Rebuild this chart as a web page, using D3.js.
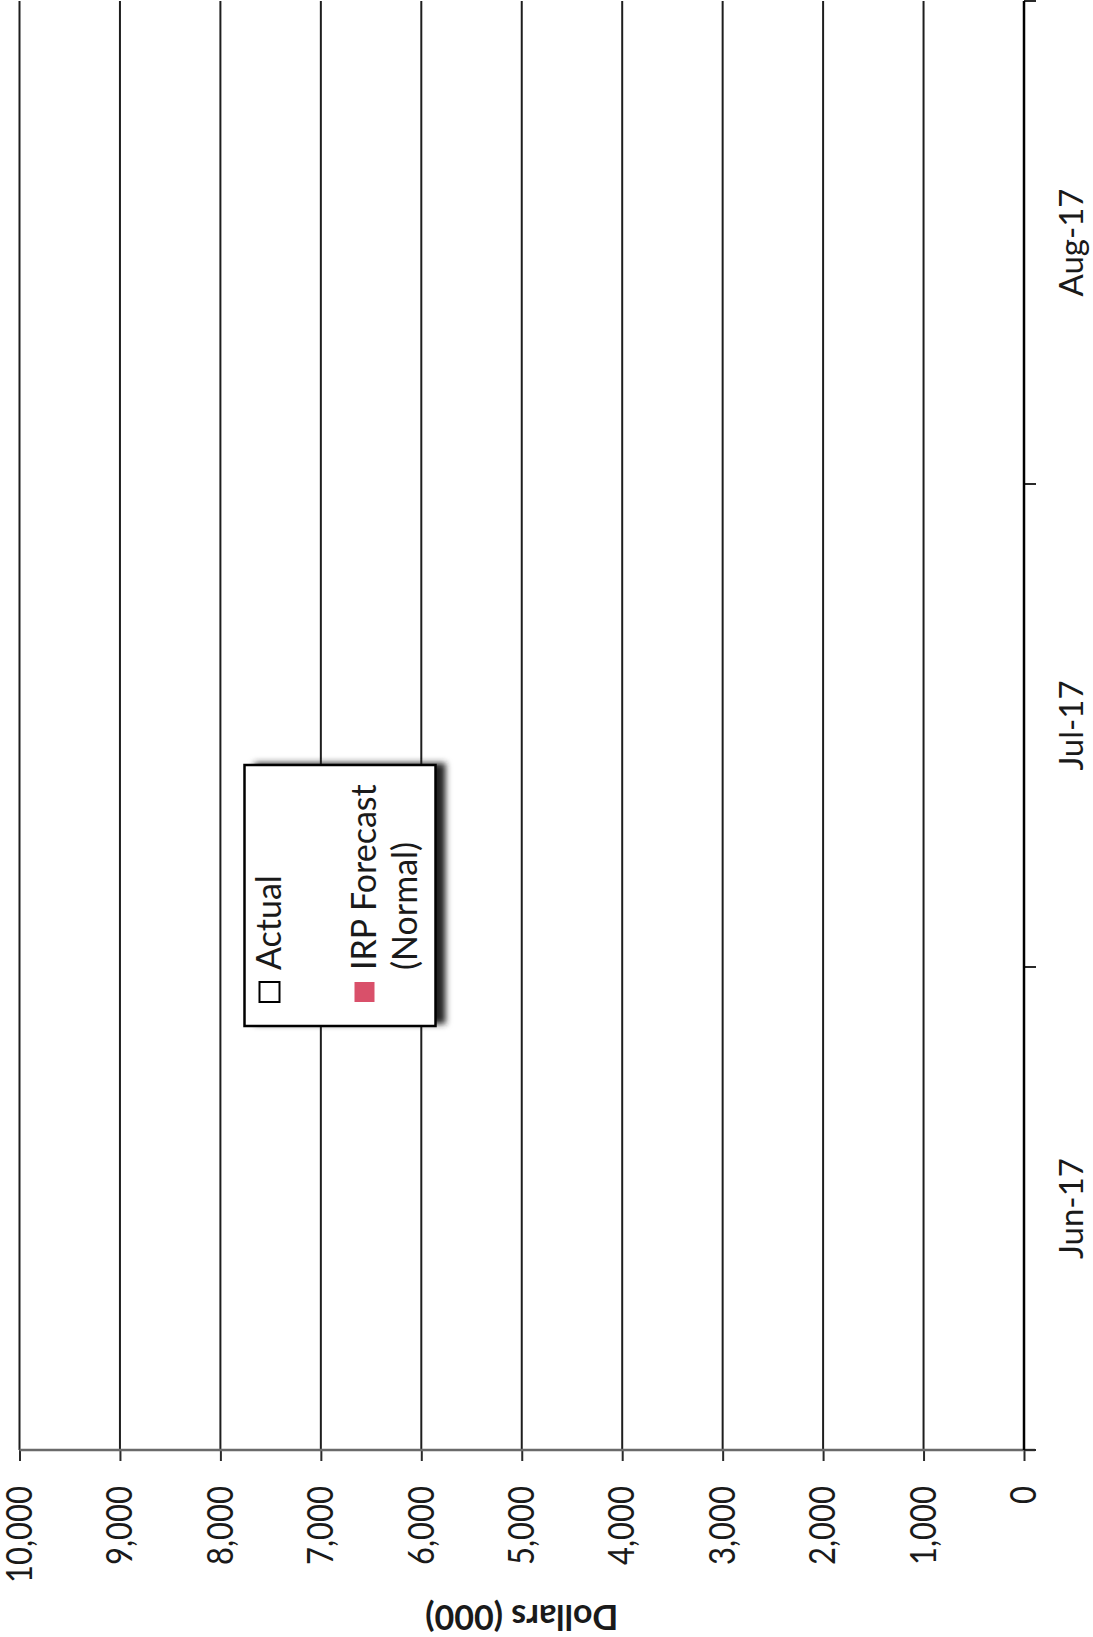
<!DOCTYPE html>
<html>
<head>
<meta charset="utf-8">
<script src="https://cdn.jsdelivr.net/npm/d3@7/dist/d3.min.js"></script>
<style>
  html, body { margin: 0; padding: 0; background: #ffffff; }
  svg { display: block; }
</style>
</head>
<body>
<svg id="chart" width="1093" height="1637"></svg>
<script>
// ---- data ----
const categories = ["Jun-17", "Jul-17", "Aug-17"];
const actualValues = [null, null, null];          // no bars shown in the reference
const irpForecastValues = [null, null, null];     // no bars shown in the reference
const valueTicks = [0, 1000, 2000, 3000, 4000, 5000, 6000, 7000, 8000, 9000, 10000];
const seriesNames = ["Actual", "IRP Forecast (Normal)"];
const legendLabelLines = [["Actual"], ["IRP Forecast", "(Normal)"]];
const seriesColors = ["#ffffff", "#d9506a"];
const valueAxisTitle = "Dollars (000)";

// ---- layout (chart is drawn in its natural orientation, then rotated -90deg) ----
const svg = d3.select("#chart");
const originX = 19.5, originY = 1450;     // screen position of (category start, value max)
const W = 1449;                            // category extent
const H = 1004.5;                          // value extent

const g = svg.append("g")
  .attr("transform", `translate(${originX},${originY}) rotate(-90)`);

const x = d3.scaleBand().domain(categories).range([0, W]).paddingInner(0);
const y = d3.scaleLinear().domain([0, 10000]).range([H, 0]);
const x1 = d3.scaleBand().domain(seriesNames).range([0, x.bandwidth()]).padding(0.1);

// gridlines
g.append("g").selectAll("line")
  .data(valueTicks.filter(v => v > 0))
  .join("line")
  .attr("x1", 0).attr("x2", W)
  .attr("y1", d => y(d)).attr("y2", d => y(d))
  .attr("stroke", "#1e1e1e").attr("stroke-width", 2);

// bars (none visible, values missing)
const rows = categories.map((c, i) => ({ c, vals: [actualValues[i], irpForecastValues[i]] }));
g.append("g").selectAll("g")
  .data(rows).join("g")
  .attr("transform", d => `translate(${x(d.c)},0)`)
  .selectAll("rect")
  .data(d => d.vals.map((v, j) => ({ v, s: seriesNames[j], j })).filter(e => e.v != null))
  .join("rect")
  .attr("x", e => x1(e.s)).attr("width", x1.bandwidth())
  .attr("y", e => y(e.v)).attr("height", e => H - y(e.v))
  .attr("fill", e => seriesColors[e.j]).attr("stroke", "#000");

// value axis (left in natural orientation -> bottom on screen)
const yAxis = d3.axisLeft(y).tickValues(valueTicks).tickFormat(d3.format(","))
  .tickSize(11).tickPadding(25);
const yAxisG = g.append("g").call(yAxis);
yAxisG.select(".domain").remove();
yAxisG.selectAll(".tick line").attr("stroke", "#2a2a2a").attr("stroke-width", 2);
yAxisG.selectAll(".tick text")
  .attr("font-family", "Lato, 'Open Sans', sans-serif")
  .attr("font-size", 31).attr("fill", "#1a1a1a")
  .attr("transform", "scale(1,1.18)");
g.append("line").attr("x1", 0).attr("x2", 0).attr("y1", 0).attr("y2", H + 11)
  .attr("stroke", "#6a6a6a").attr("stroke-width", 2.5);

// category axis (bottom in natural orientation -> right on screen)
const xAxis = d3.axisBottom(x).tickSize(0).tickPadding(36);
const xAxisG = g.append("g").attr("transform", `translate(0,${H})`).call(xAxis);
xAxisG.select(".domain").remove();
xAxisG.selectAll(".tick text")
  .attr("font-family", "Lato, 'Open Sans', sans-serif")
  .attr("font-size", 33).attr("fill", "#1a1a1a");
const boundaries = categories.map(c => x(c)).concat([x(categories[categories.length - 1]) + x.bandwidth()]);
g.append("g").selectAll("line").data(boundaries).join("line")
  .attr("x1", d => d).attr("x2", d => d).attr("y1", H).attr("y2", H + 12)
  .attr("stroke", "#2a2a2a").attr("stroke-width", 2);
g.append("line").attr("x1", 0).attr("x2", W).attr("y1", H).attr("y2", H)
  .attr("stroke", "#000").attr("stroke-width", 2.5);

// axis title
g.append("text")
  .attr("transform", `translate(-167,${H / 2}) rotate(-90)`)
  .attr("text-anchor", "middle").attr("dy", "0.35em")
  .attr("font-family", "Lato, 'Open Sans', sans-serif").attr("font-weight", "bold")
  .attr("font-size", 34).attr("fill", "#1a1a1a")
  .text(valueAxisTitle);

// legend
const defs = svg.append("defs");
defs.append("filter").attr("id", "shadow").attr("x", "-20%").attr("y", "-20%")
  .attr("width", "140%").attr("height", "140%")
  .append("feGaussianBlur").attr("stdDeviation", 3);

const lx = 424, ly = 225, lw = 261, lh = 191;
const legend = g.append("g").attr("transform", `translate(${lx},${ly})`);
legend.append("rect").attr("x", 2).attr("y", 10).attr("width", lw).attr("height", lh)
  .attr("fill", "#222").attr("filter", "url(#shadow)");
legend.append("rect").attr("width", lw).attr("height", lh)
  .attr("fill", "#fff").attr("stroke", "#000").attr("stroke-width", 2.5);

const itemOffsets = [0, 95];
seriesNames.forEach((s, i) => {
  const it = legend.append("g").attr("transform", `translate(0,${itemOffsets[i]})`);
  it.append("rect").attr("x", 24).attr("y", 15).attr("width", 20).attr("height", 20)
    .attr("fill", seriesColors[i]).attr("stroke", i === 0 ? "#000" : "none").attr("stroke-width", 2);
  legendLabelLines[i].forEach((line, k) => {
    it.append("text").attr("x", 56).attr("y", 36 + k * 41)
      .attr("font-family", "Lato, 'Open Sans', sans-serif")
      .attr("font-size", 34).attr("fill", "#1a1a1a")
      .text(line);
  });
});
</script>
</body>
</html>
